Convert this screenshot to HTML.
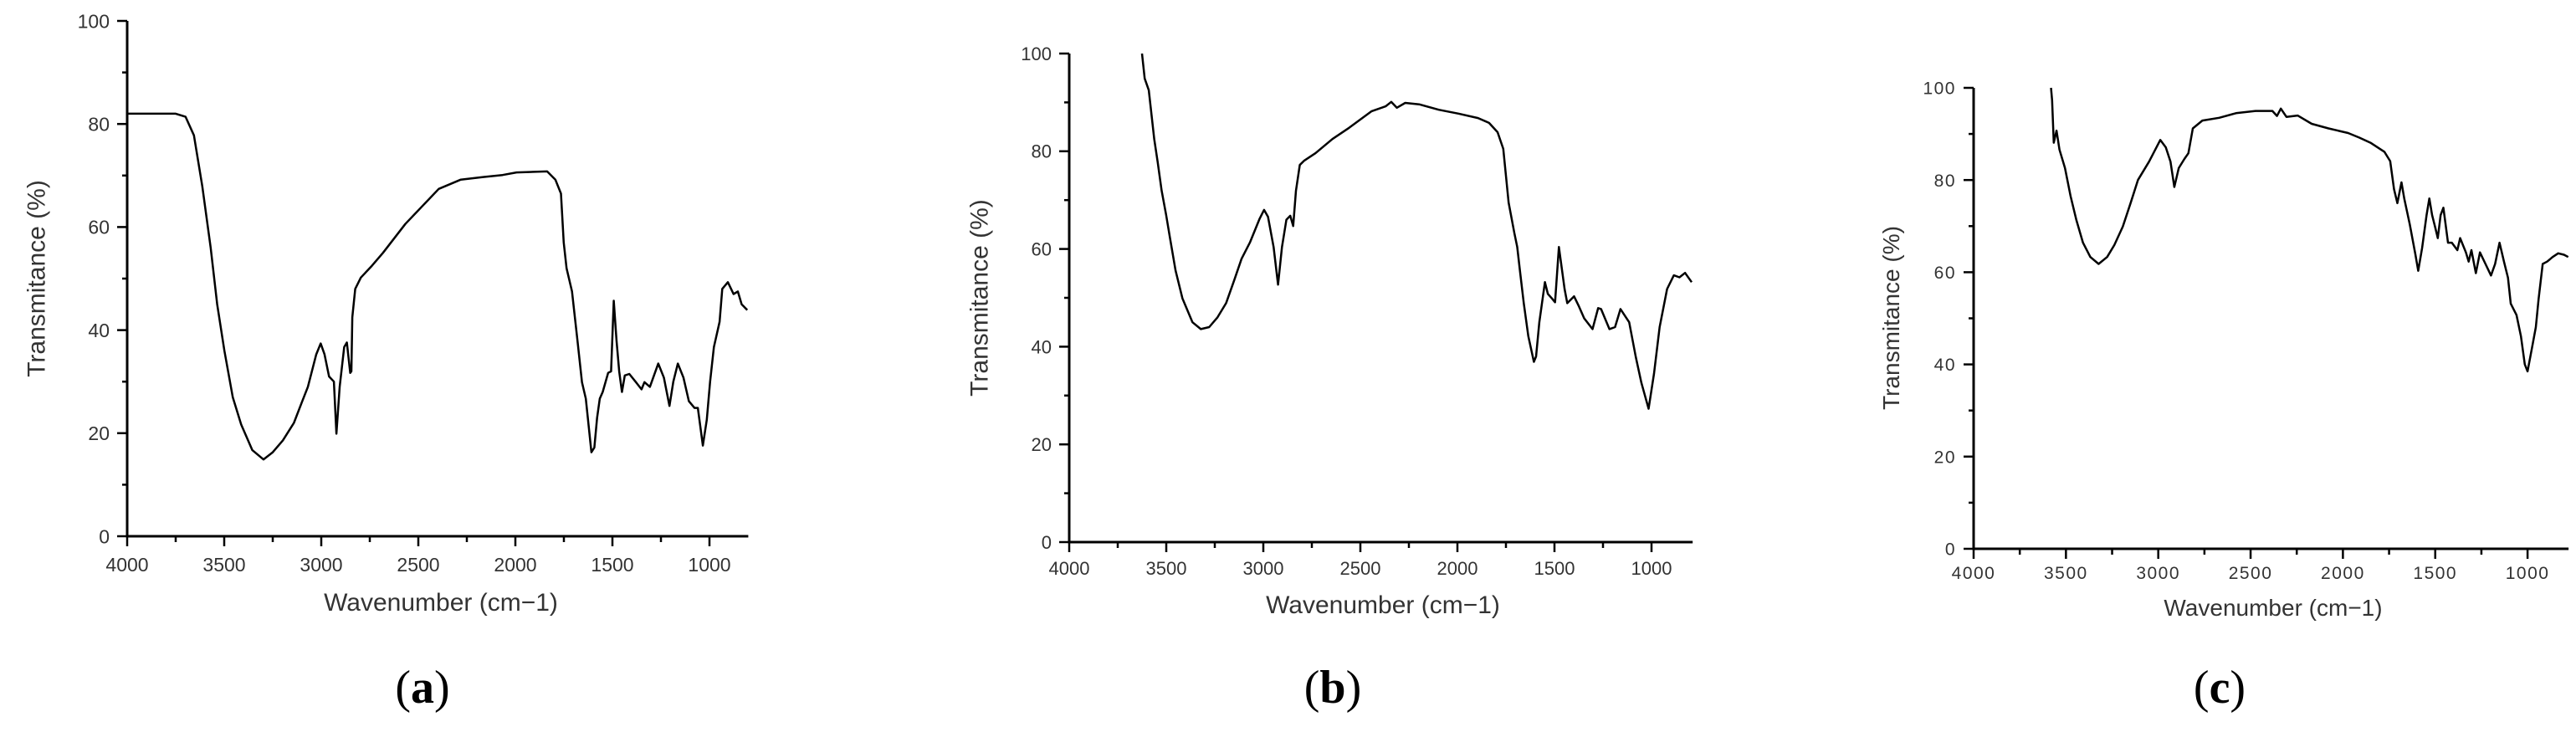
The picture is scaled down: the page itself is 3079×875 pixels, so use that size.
<!DOCTYPE html>
<html><head><meta charset="utf-8"><style>
html,body{margin:0;padding:0;background:#fff;}
svg{display:block;}
</style></head><body>
<svg id="fig" width="3079" height="875" xmlns="http://www.w3.org/2000/svg"></svg>
<script>
const xTickLabels=[4000,3500,3000,2500,2000,1500,1000];
const yTickLabels=[0,20,40,60,80,100];
const aWn=[4000,3750,3699,3656,3613,3570,3536,3499,3456,3413,3355,3298,3250,3198,3141,3100,3069,3026,3003,2983,2960,2935,2922,2905,2882,2868,2851,2845,2840,2825,2796,2739,2682,2567,2481,2395,2281,2166,2066,1994,1836,1794,1765,1751,1736,1708,1680,1657,1637,1608,1593,1579,1565,1550,1522,1507,1493,1479,1465,1451,1436,1413,1379,1350,1335,1307,1264,1235,1206,1186,1163,1134,1106,1077,1060,1034,1014,997,977,948,934,905,876,854,834,805];
const aT=[82,82,81.4,77.8,67.9,56,45,36,27,21.7,16.7,14.9,16.3,18.6,22,26,29,35.3,37.4,35.3,31,30,19.9,29,36.7,37.6,31.7,32,42.5,48,50.2,52.5,55,60.6,64,67.4,69.2,69.7,70.1,70.6,70.8,69.2,66.5,57,52,47.5,38,29.9,26.7,16.3,17.2,23,26.7,28,31.7,32,45.7,38,32,28,31.2,31.5,29.9,28.5,29.9,29,33.5,30.8,25.3,30,33.5,30.8,26.2,24.9,24.9,17.6,22.6,29.9,36.7,41.6,48,49.3,47,47.5,45,43.9];
const bWn=[3625,3611,3590,3562,3544,3524,3501,3481,3452,3417,3365,3322,3279,3236,3192,3149,3112,3068,3019,2996,2976,2947,2924,2904,2881,2861,2846,2832,2812,2789,2731,2644,2558,2442,2370,2341,2312,2269,2197,2096,1995,1894,1837,1793,1764,1736,1707,1692,1678,1658,1635,1606,1595,1578,1549,1534,1514,1497,1477,1448,1434,1399,1376,1347,1304,1275,1260,1217,1188,1160,1115,1081,1052,1015,987,958,920,885,856,827,793];
const bT=[100,94.9,92.5,82.5,77.7,72,67,62.3,55.6,49.9,45,43.6,44,46,48.9,53.7,58,61.4,66.2,68,66.6,60.4,52.7,60.4,66,66.8,64.7,71.9,77.2,78.1,79.6,82.5,84.8,88.2,89.2,90.1,88.9,89.9,89.6,88.5,87.7,86.8,85.8,83.9,80.5,69.5,63.3,60.4,55.6,48.9,42.2,36.9,38,45,53.2,50.8,49.9,49.1,60.4,51.8,48.9,50.3,48.4,45.8,43.6,47.9,47.7,43.6,44,47.7,45,37.9,32.6,27.3,34.5,44,51.8,54.6,54.2,55.1,53.2];
const cWn=[3581,3575,3566,3551,3535,3505,3475,3444,3408,3368,3323,3277,3238,3192,3150,3110,3050,2989,2959,2934,2913,2889,2858,2837,2813,2761,2670,2579,2473,2382,2357,2336,2306,2245,2169,2078,1972,1911,1851,1775,1744,1723,1705,1683,1668,1638,1607,1592,1571,1547,1532,1517,1501,1486,1471,1456,1431,1410,1380,1365,1334,1319,1304,1280,1258,1228,1198,1176,1152,1128,1106,1091,1060,1036,1015,1000,976,955,940,918,894,864,834,803,780];
const cT=[100,97.3,88.1,90.7,86.6,82.6,76.5,71.4,66.4,63.3,61.8,63.3,65.9,69.9,75,80,84,88.7,87.1,84,78.5,82.6,84.6,85.8,91.2,92.9,93.5,94.5,95,95,93.9,95.5,93.7,94,92.2,91.2,90.2,89.2,88.1,86.1,84.1,78,75,79.5,76,70.4,63.8,60.3,65.3,72.4,76,72.4,69.9,67.4,72.4,74,66.4,66.4,64.8,67.4,64.3,62.3,64.8,59.8,64.3,61.8,59.3,61.8,66.4,62.3,58.8,53.2,50.7,46.1,40,38.5,43.6,48.1,54.2,61.8,62.3,63.3,64.1,63.8,63.3];

const NS='http://www.w3.org/2000/svg';
const svg=document.getElementById('fig');
function mk(tag,attrs,parent){const e=document.createElementNS(NS,tag);for(const k in attrs)e.setAttribute(k,attrs[k]);(parent||svg).appendChild(e);return e;}

const panels=[
 {id:'a',x0:152,y100:25,y0:641,ppu:0.232,xEnd:800,wn:aWn,t:aT,fs:23,ls:0,tfs:30,ytx:43,yty:333,xtx:527,xty:730,lx:505,tickBase:42},
 {id:'b',x0:1278,y100:64,y0:648,ppu:0.232,xEnd:788,wn:bWn,t:bT,fs:22,ls:0,tfs:30,ytx:1170,yty:356,xtx:1653,xty:733,lx:1593,tickBase:39},
 {id:'c',x0:2359,y100:105,y0:656,ppu:0.2207,xEnd:778,wn:cWn,t:cT,fs:21,ls:1.5,tfs:28,ytx:2260,yty:380,xtx:2717,xty:736,lx:2653,tickBase:36}
];

panels.forEach(p=>{
 const g=mk('g',{});
 
 
 const X=w=>p.x0+(4000-w)*p.ppu;
 const Y=v=>p.y0-(v/100)*(p.y0-p.y100);
 const xe=X(p.xEnd);
 const ax=mk('path',{d:`M${p.x0},${p.y100} L${p.x0},${p.y0} L${xe},${p.y0}`,fill:'none',stroke:'#000','stroke-width':3},g);
 
 
 for(let w=4000;w>=p.xEnd;w-=250){
  const major=(w%500===0);
  const t=mk('line',{x1:X(w),x2:X(w),y1:p.y0,y2:p.y0+(major?12:7),stroke:'#000','stroke-width':2.5},g);
  
  
 }
 xTickLabels.forEach(w=>{
  const t=mk('text',{x:X(w),y:p.y0+p.tickBase,'text-anchor':'middle','font-family':'Liberation Sans, sans-serif','font-size':p.fs,fill:'#333','letter-spacing':p.ls},g);
  t.textContent=w;
  
  
 });
 for(let v=0;v<=100;v+=10){
  const major=(v%20===0);
  const t=mk('line',{x1:p.x0-(major?12:6),x2:p.x0,y1:Y(v),y2:Y(v),stroke:'#000','stroke-width':2.5},g);
  
  
 }
 yTickLabels.forEach(v=>{
  const t=mk('text',{x:p.x0-21,y:Y(v)+p.fs*0.36,'text-anchor':'end','font-family':'Liberation Sans, sans-serif','font-size':p.fs,fill:'#333','letter-spacing':p.ls},g);
  t.textContent=v;
  
  
 });
 const yt=mk('text',{x:p.ytx,y:p.yty,'text-anchor':'middle','font-family':'Liberation Sans, sans-serif','font-size':p.tfs,fill:'#333',transform:`rotate(-90 ${p.ytx} ${p.yty})`,dy:'0.35em'},g);
 yt.textContent='Transmitance (%)';
 
 
 const xt=mk('text',{x:p.xtx,y:p.xty,'text-anchor':'middle','font-family':'Liberation Sans, sans-serif','font-size':p.tfs,fill:'#333'},g);
 xt.textContent='Wavenumber (cm\u22121)';
 
 
 let d='';
 p.wn.forEach((w,i)=>{d+=(i?'L':'M')+X(w).toFixed(1)+','+Y(p.t[i]).toFixed(1);});
 const ln=mk('path',{d:d,fill:'none',stroke:'#000','stroke-width':2.5,'stroke-linejoin':'round'},g);
 
 
 const lb=mk('text',{x:p.lx,y:840,'text-anchor':'middle','font-family':'Liberation Serif, serif','font-size':56,fill:'#000'},g);
 lb.innerHTML='(<tspan font-weight="bold">'+p.id+'</tspan>)';
 
 
});
</script>
</body></html>
